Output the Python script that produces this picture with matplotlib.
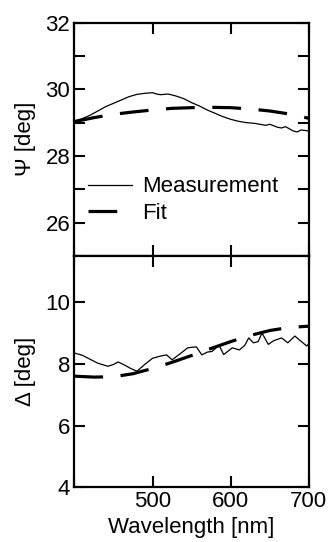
import numpy as np
import matplotlib.pyplot as plt

plt.rcParams['font.family'] = ['Liberation Sans', 'DejaVu Sans']

# Psi panel
psi_meas_wl = [400, 410, 420, 430, 440, 450, 460, 470, 480, 490, 500, 505, 510, 520, 530,
               540, 550, 560, 570, 580, 590, 600, 610, 620, 630, 640, 645, 650, 660, 665,
               670, 680, 685, 690, 700]
psi_meas = [29.05, 29.12, 29.22, 29.35, 29.48, 29.58, 29.68, 29.78, 29.85, 29.88, 29.9, 29.86,
            29.84, 29.86, 29.8, 29.72, 29.6, 29.5, 29.38, 29.28, 29.18, 29.1, 29.04, 29.0,
            28.98, 28.94, 28.92, 28.95, 28.86, 28.84, 28.88, 28.75, 28.72, 28.78, 28.75]
psi_fit_wl = [400, 425, 450, 475, 500, 525, 550, 575, 600, 625, 650, 675, 700]
psi_fit = [29.03, 29.15, 29.25, 29.32, 29.38, 29.43, 29.45, 29.46, 29.45, 29.41, 29.35, 29.26, 29.13]

# Delta panel
del_meas_wl = [400, 410, 420, 430, 443, 450, 456, 465, 472, 480, 490, 500, 510, 518, 525,
               535, 545, 556, 563, 570, 576, 585, 591, 602, 611, 618, 623, 629, 635, 640,
               648, 655, 665, 673, 682, 690, 697, 700]
del_meas = [8.35, 8.28, 8.15, 8.02, 7.92, 7.98, 8.06, 7.95, 7.85, 7.76, 7.98, 8.18, 8.25, 8.29,
            8.13, 8.32, 8.52, 8.55, 8.29, 8.38, 8.4, 8.6, 8.3, 8.52, 8.45, 8.6, 8.84, 8.68,
            8.72, 9.0, 8.63, 8.75, 8.84, 8.68, 8.9, 8.73, 8.58, 8.65]
del_fit_wl = [400, 425, 450, 475, 500, 525, 550, 575, 600, 625, 650, 675, 700]
del_fit = [7.6, 7.57, 7.58, 7.68, 7.85, 8.05, 8.27, 8.5, 8.72, 8.92, 9.08, 9.18, 9.22]

fs = 16
fig = plt.figure(figsize=(3.29, 5.42), dpi=100)
ax1 = fig.add_axes([0.226, 0.528, 0.713, 0.43])
ax2 = fig.add_axes([0.226, 0.101, 0.713, 0.427])

dash = (0, (9, 5.5))
for ax in (ax1, ax2):
    for s in ax.spines.values():
        s.set_linewidth(1.6)
    ax.tick_params(direction='in', length=8, width=1.5, top=True, right=True,
                   labelsize=fs, pad=3)
    ax.set_xlim(400, 700)
    ax.set_xticks([400, 500, 600, 700])

ax1.plot(psi_meas_wl, psi_meas, color='black', lw=0.9, label='Measurement')
ax1.plot(psi_fit_wl, psi_fit, color='black', lw=2.3, linestyle=dash, label='Fit')
ax1.set_ylim(25, 32)
ax1.set_yticks(np.arange(25, 33, 1))
ax1.set_yticklabels(['' if v % 2 else str(v) for v in range(25, 33)])
ax1.tick_params(labelbottom=False)
ax1.set_ylabel('Ψ [deg]', fontsize=fs, labelpad=7)
ax1.legend(loc='lower left', bbox_to_anchor=(0.0, 0.08), frameon=False, fontsize=fs,
           handlelength=2.0, handletextpad=0.45, labelspacing=0.25, borderaxespad=0.2)

ax2.plot(del_meas_wl, del_meas, color='black', lw=0.9)
ax2.plot(del_fit_wl, del_fit, color='black', lw=2.3, linestyle=dash)
ax2.set_ylim(4, 11.5)
ax2.set_yticks([4, 6, 8, 10])
ax2.set_xticklabels(['', '500', '600', '700'])
ax2.set_ylabel('Δ [deg]', fontsize=fs, labelpad=7)
ax2.set_xlabel('Wavelength [nm]', fontsize=fs, labelpad=3)

fig.savefig('out.png', dpi=100)
